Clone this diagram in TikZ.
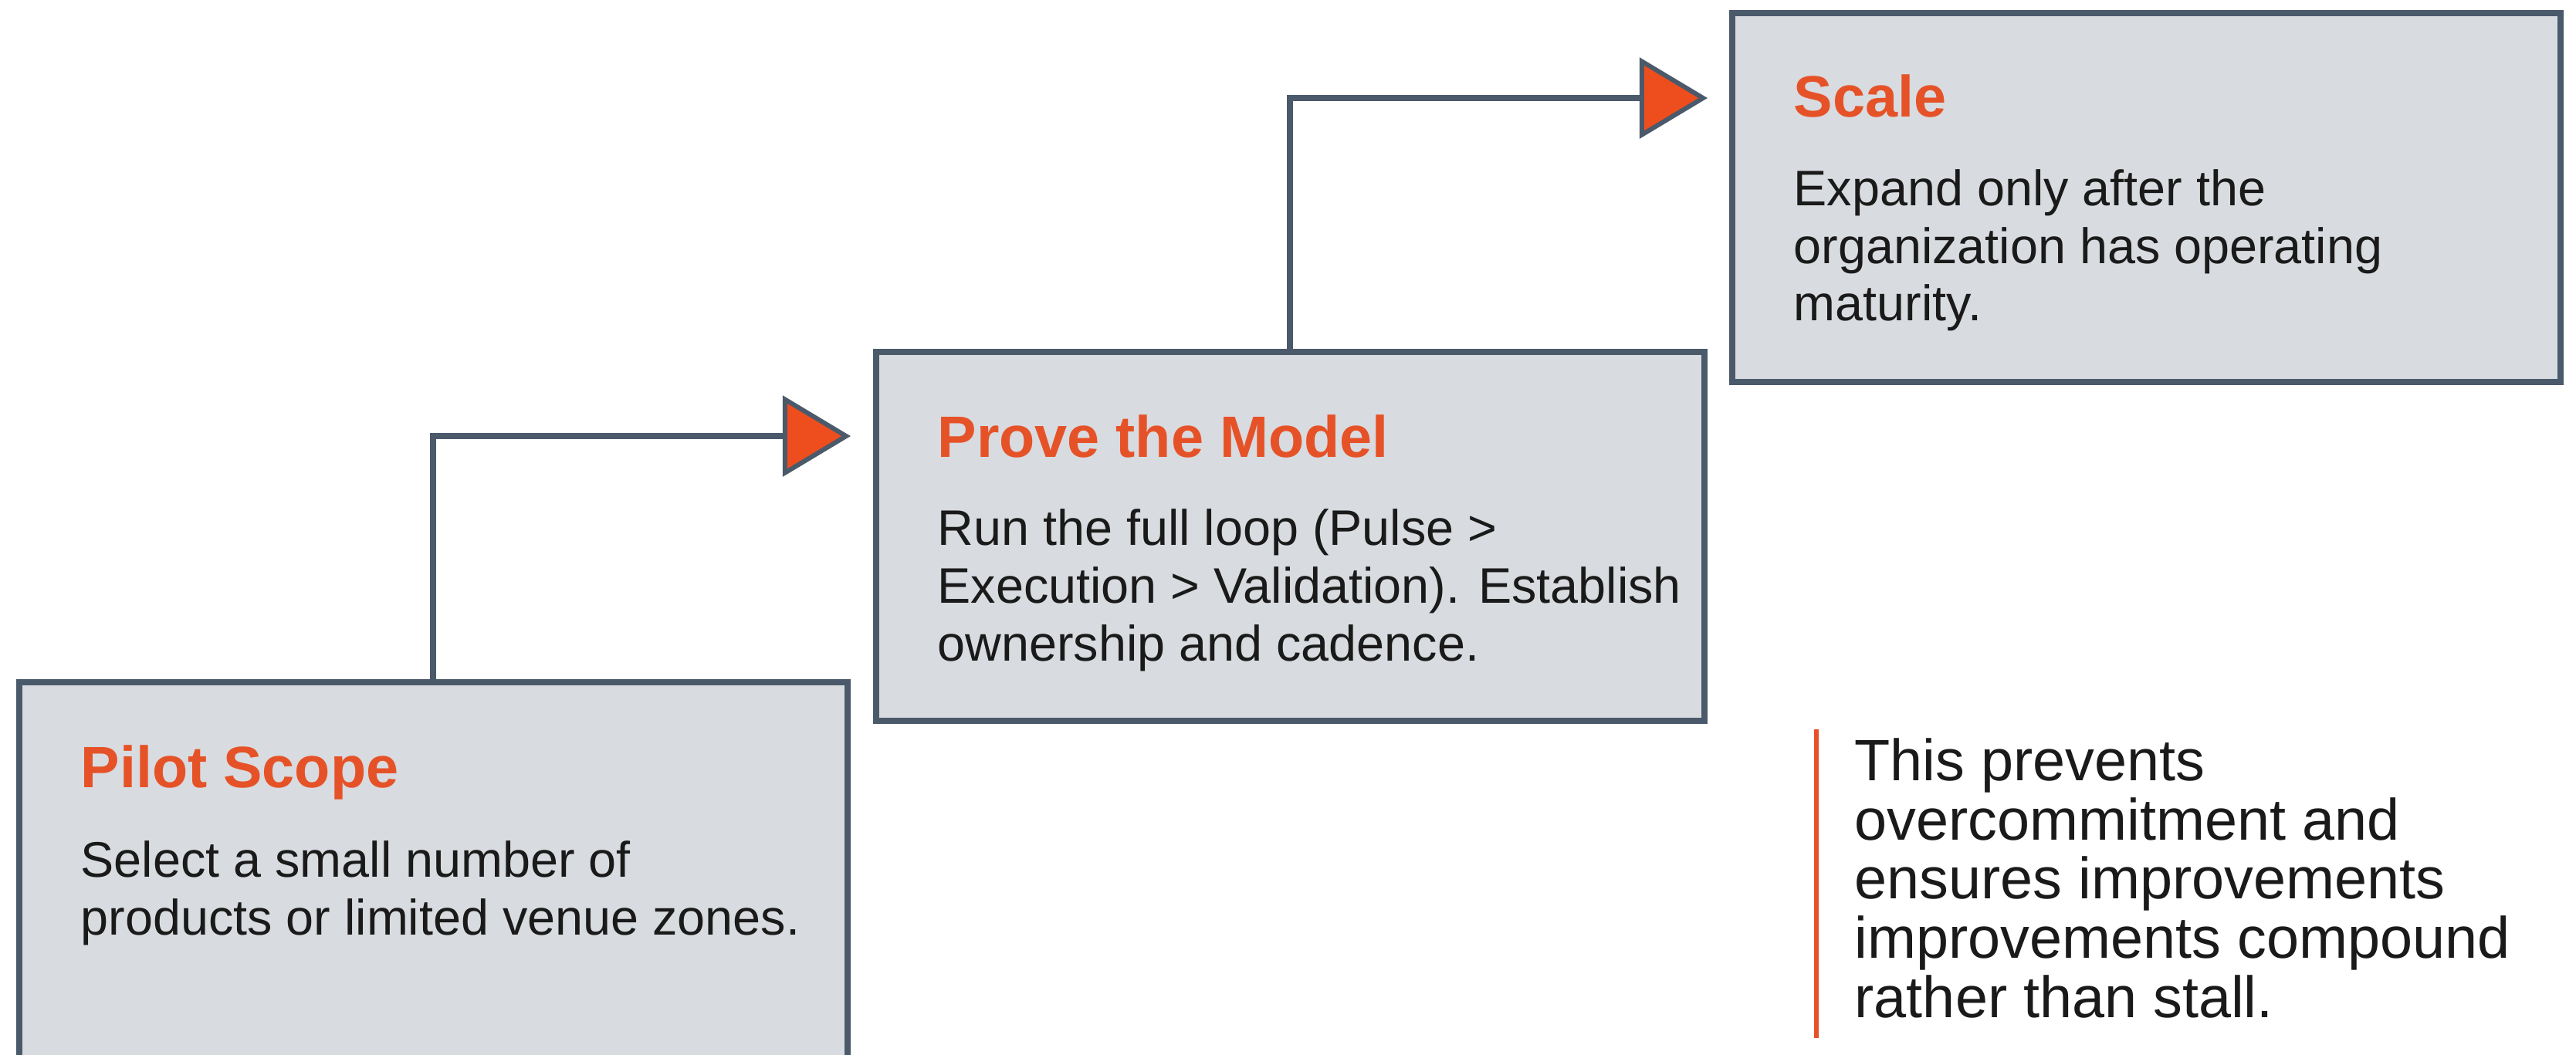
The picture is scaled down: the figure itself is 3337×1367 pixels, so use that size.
\documentclass[tikz,border=0pt]{standalone}
\usepackage{fontspec}
\setmainfont{Liberation Sans}
\usetikzlibrary{arrows.meta,calc}
\definecolor{slate}{HTML}{4B5A6B}
\definecolor{boxfill}{HTML}{D8DBDF}
\definecolor{accent}{HTML}{E65228}
\definecolor{tipfill}{HTML}{EE4E1D}
\definecolor{ink}{HTML}{1A1A1A}
\begin{document}
\begin{tikzpicture}[x=0.01cm,y=-0.01cm,
  stage/.style={draw=slate, line width=0.08cm, fill=boxfill, rectangle,
    anchor=north west, inner sep=0pt, minimum width=10.72cm, minimum height=4.78cm},
  stagetitle/.style={anchor=base west, inner sep=0pt, text=accent,
    font=\fontsize{21.5}{24}\selectfont\bfseries},
  % multi-line bodies are placed by the baseline of their last line
  stagebody/.style={anchor=base west, inner sep=0pt, text=ink, align=left,
    font=\fontsize{18.4}{21.2}\selectfont},
  notetext/.style={anchor=base west, inner sep=0pt, text=ink, align=left,
    font=\fontsize{21.5}{21.8}\selectfont},
  conn/.style={draw=slate, line width=0.08cm,
    -{Triangle[length=0.88cm,width=1.04cm,fill=tipfill,line width=0.06cm]}},
  notebar/.style={draw=accent, line width=0.06cm},
]
% page area
\clip (0,0) rectangle (3337,1367);
\fill[white] (0,0) rectangle (3337,1367);

% the three stages
\node[stage, minimum height=5.1cm] (pilot) at (21,880) {};
\node[stage] (prove) at (1131,452) {};
\node[stage] (scale) at (2240,13) {};

\node[stagetitle] (pilot-title) at ($(pilot.north west)+(83,140)$) {Pilot Scope};
\node[stagebody] (pilot-body) at ($(pilot.north west)+(83,331)$)
  {Select a small number of\\products or limited venue zones.};

\node[stagetitle] (prove-title) at ($(prove.north west)+(83,140)$) {Prove the Model};
\node[stagebody] (prove-body) at ($(prove.north west)+(83,404)$)
  {Run the full loop (Pulse >\\Execution > Validation). Establish\\ownership and cadence.};

\node[stagetitle] (scale-title) at ($(scale.north west)+(83,139)$) {Scale};
\node[stagebody] (scale-body) at ($(scale.north west)+(83,403)$)
  {Expand only after the\\organization has operating\\maturity.};

% step connectors
\draw[conn] ([xshift=5.40cm]pilot.north west) |- ([xshift=-0.29cm,yshift=-1.13cm]prove.north west);
\draw[conn] ([xshift=5.40cm]prove.north west) |- ([xshift=-0.28cm,yshift=-1.14cm]scale.north west);

% side note with its accent bar
\node[notetext] (note) at (2402,1318)
  {This prevents\\overcommitment and\\ensures improvements\\improvements compound\\rather than stall.};
\draw[notebar] ($(note.base west)+(-49,-373)$) -- ++(0,400);
\end{tikzpicture}
\end{document}
